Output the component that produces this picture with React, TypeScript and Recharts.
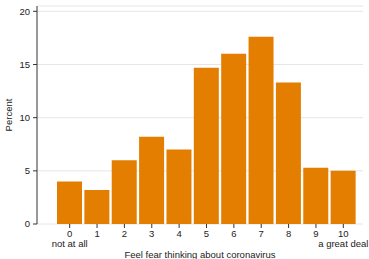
import { BarChart, Bar, XAxis, YAxis, CartesianGrid, Label } from "recharts";

const scores = ["0", "1", "2", "3", "4", "5", "6", "7", "8", "9", "10"];
const percents = [4.0, 3.2, 6.0, 8.2, 7.0, 14.7, 16.0, 17.6, 13.3, 5.3, 5.0];
const endLabels: Record<string, string> = { "0": "not at all", "10": "a great deal" };
const yTicks = [0, 5, 10, 15, 20];

const data = scores.map((s, i) => ({ score: s, percent: percents[i] }));

const FONT = "'Liberation Sans', Arial, sans-serif";
const FS = 9.5;

const ScoreTick = ({ x, y, payload }: any) => {
  const sub = endLabels[payload.value];
  return (
    <g>
      <text x={x} y={y} dy={7.5} textAnchor="middle" fontSize={FS} fill="#222" fontFamily={FONT}>
        {payload.value}
      </text>
      {sub && (
        <text x={x} y={y} dy={18} textAnchor="middle" fontSize={FS} fill="#222" fontFamily={FONT}>
          {sub}
        </text>
      )}
    </g>
  );
};

export default function App() {
  return (
    <div style={{ position: "absolute", left: 0, top: 0, background: "#fff" }}>
      <BarChart
        width={369}
        height={259}
        data={data}
        margin={{ top: 6, right: 6, bottom: 0, left: 0 }}
        barCategoryGap={1}
        style={{ fontFamily: FONT }}
      >
        <CartesianGrid vertical={false} stroke="#e6e6e6" strokeWidth={1} />
        <XAxis
          dataKey="score"
          axisLine={false}
          tickLine={{ stroke: "#333" }}
          tickSize={4}
          tickMargin={1}
          interval={0}
          height={35}
          padding={{ left: 19, right: 6 }}
          tick={<ScoreTick />}
        >
          <Label
            value="Feel fear thinking about coronavirus"
            position="insideBottom"
            offset={1}
            style={{ fontSize: FS, fill: "#222", fontFamily: FONT }}
          />
        </XAxis>
        <YAxis
          width={37}
          domain={[0, 20.5]}
          ticks={yTicks}
          allowDataOverflow
          axisLine={{ stroke: "#333" }}
          tickLine={{ stroke: "#333" }}
          tickSize={4}
          tickMargin={3}
          tick={{ fontSize: FS, fill: "#222", fontFamily: FONT }}
        >
          <Label
            value="Percent"
            angle={-90}
            position="insideLeft"
            offset={9}
            style={{ fontSize: FS, fill: "#222", fontFamily: FONT, textAnchor: "middle" }}
          />
        </YAxis>
        <Bar dataKey="percent" fill="#e37e00" isAnimationActive={false} />
      </BarChart>
    </div>
  );
}
